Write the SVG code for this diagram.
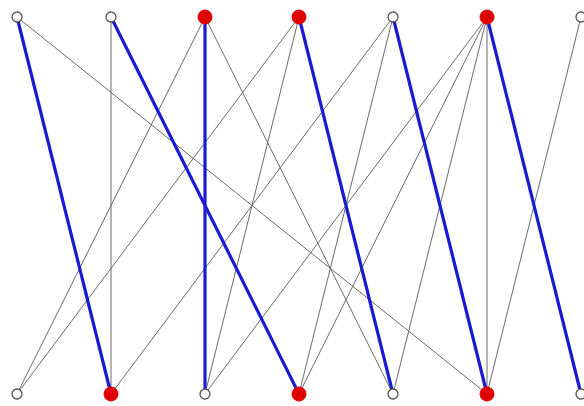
<svg xmlns="http://www.w3.org/2000/svg" width="584" height="406" viewBox="0 0 584 406">
<style>
.e{stroke:#6a6a6a;stroke-width:1;fill:none}
.m{stroke:#1a1ad0;stroke-width:3.2;fill:none}
.w{fill:#ffffff;stroke:#555;stroke-width:1.3}
.r{fill:#e00000;stroke:#e00000;stroke-width:1}
</style>
<rect width="584" height="406" fill="#ffffff"/>
<g id="connectors">
<line class="e" x1="17" y1="17" x2="487" y2="394"/>
<line class="e" x1="111" y1="17" x2="111" y2="394"/>
<line class="e" x1="205" y1="17" x2="17" y2="394"/>
<line class="e" x1="205" y1="17" x2="393" y2="394"/>
<line class="e" x1="299" y1="17" x2="17" y2="394"/>
<line class="e" x1="299" y1="17" x2="205" y2="394"/>
<line class="e" x1="393" y1="17" x2="111" y2="394"/>
<line class="e" x1="393" y1="17" x2="299" y2="394"/>
<line class="e" x1="487" y1="17" x2="205" y2="394"/>
<line class="e" x1="487" y1="17" x2="299" y2="394"/>
<line class="e" x1="487" y1="17" x2="393" y2="394"/>
<line class="e" x1="487" y1="17" x2="487" y2="394"/>
<line class="e" x1="581" y1="17" x2="487" y2="394"/>
<line class="m" x1="17" y1="17" x2="111" y2="394"/>
<line class="m" x1="111" y1="17" x2="299" y2="394"/>
<line class="m" x1="205" y1="17" x2="205" y2="394"/>
<line class="m" x1="299" y1="17" x2="393" y2="394"/>
<line class="m" x1="393" y1="17" x2="487" y2="394"/>
<line class="m" x1="487" y1="17" x2="581" y2="394"/>
</g>
<g id="t0"><circle class="w" cx="17" cy="17" r="5"/></g>
<g id="t1"><circle class="w" cx="111" cy="17" r="5"/></g>
<g id="t2"><circle class="r" cx="205" cy="17" r="7"/></g>
<g id="t3"><circle class="r" cx="299" cy="17" r="7"/></g>
<g id="t4"><circle class="w" cx="393" cy="17" r="5"/></g>
<g id="t5"><circle class="r" cx="487" cy="17" r="7"/></g>
<g id="t6"><circle class="w" cx="581" cy="17" r="5"/></g>
<g id="b0"><circle class="w" cx="17" cy="394" r="5"/></g>
<g id="b1"><circle class="r" cx="111" cy="394" r="7"/></g>
<g id="b2"><circle class="w" cx="205" cy="394" r="5"/></g>
<g id="b3"><circle class="r" cx="299" cy="394" r="7"/></g>
<g id="b4"><circle class="w" cx="393" cy="394" r="5"/></g>
<g id="b5"><circle class="r" cx="487" cy="394" r="7"/></g>
<g id="b6"><circle class="w" cx="581" cy="394" r="5"/></g>
</svg>
